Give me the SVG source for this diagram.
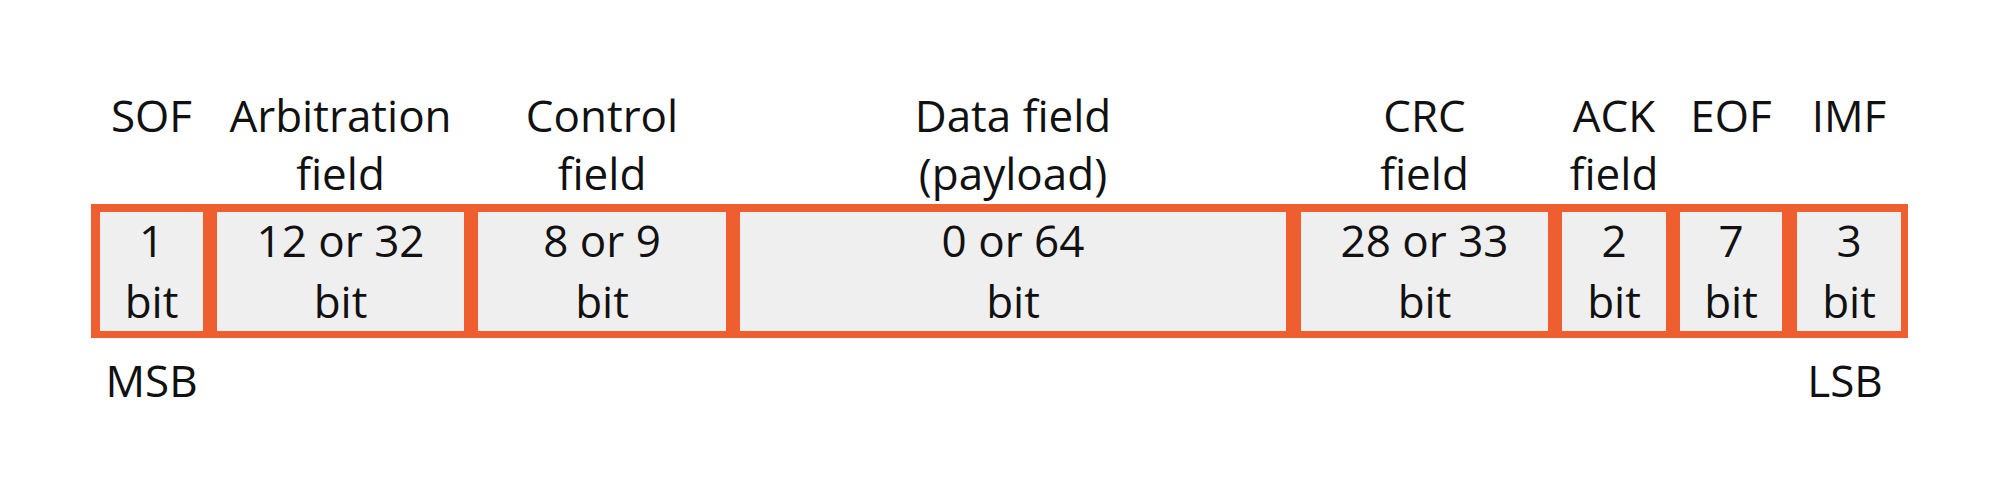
<svg xmlns="http://www.w3.org/2000/svg" width="1999" height="500" viewBox="0 0 1999 500">
<style>
  text { font-family: "Open Sans", "Noto Sans", "DejaVu Sans", sans-serif; font-size: 44px; fill: #111; text-anchor: middle; }
  .frame { fill: #EE5E2F; }
  .cell { fill: #EFEFEF; }
</style>
<rect width="1999" height="500" fill="#ffffff"/>
<rect id="frame" class="frame" x="91" y="204" width="1817" height="134"/>
<g id="connectors"></g>
<g id="sof">
  <text x="151.5" y="132">SOF</text>
  <rect class="cell" x="100" y="212" width="103" height="119"/>
  <text x="151.5" y="257">1</text>
  <text x="151.5" y="318">bit</text>
  <text x="151.5" y="397">MSB</text>
</g>
<g id="arbitration">
  <text x="340.5" y="132">Arbitration</text>
  <text x="340.5" y="190">field</text>
  <rect class="cell" x="217" y="212" width="247" height="119"/>
  <text x="340.5" y="257">12 or 32</text>
  <text x="340.5" y="318">bit</text>
</g>
<g id="control">
  <text x="602" y="132">Control</text>
  <text x="602" y="190">field</text>
  <rect class="cell" x="478" y="212" width="248" height="119"/>
  <text x="602" y="257">8 or 9</text>
  <text x="602" y="318">bit</text>
</g>
<g id="data">
  <text x="1013" y="132">Data field</text>
  <text x="1013" y="190">(payload)</text>
  <rect class="cell" x="740" y="212" width="546" height="119"/>
  <text x="1013" y="257">0 or 64</text>
  <text x="1013" y="318">bit</text>
</g>
<g id="crc">
  <text x="1424.5" y="132">CRC</text>
  <text x="1424.5" y="190">field</text>
  <rect class="cell" x="1301" y="212" width="247" height="119"/>
  <text x="1424.5" y="257">28 or 33</text>
  <text x="1424.5" y="318">bit</text>
</g>
<g id="ack">
  <text x="1614" y="132">ACK</text>
  <text x="1614" y="190">field</text>
  <rect class="cell" x="1562" y="212" width="104" height="119"/>
  <text x="1614" y="257">2</text>
  <text x="1614" y="318">bit</text>
</g>
<g id="eof">
  <text x="1731" y="132">EOF</text>
  <rect class="cell" x="1680" y="212" width="102" height="119"/>
  <text x="1731" y="257">7</text>
  <text x="1731" y="318">bit</text>
</g>
<g id="imf">
  <text x="1849" y="132">IMF</text>
  <rect class="cell" x="1797" y="212" width="104" height="119"/>
  <text x="1849" y="257">3</text>
  <text x="1849" y="318">bit</text>
  <text x="1845" y="397">LSB</text>
</g>
</svg>
